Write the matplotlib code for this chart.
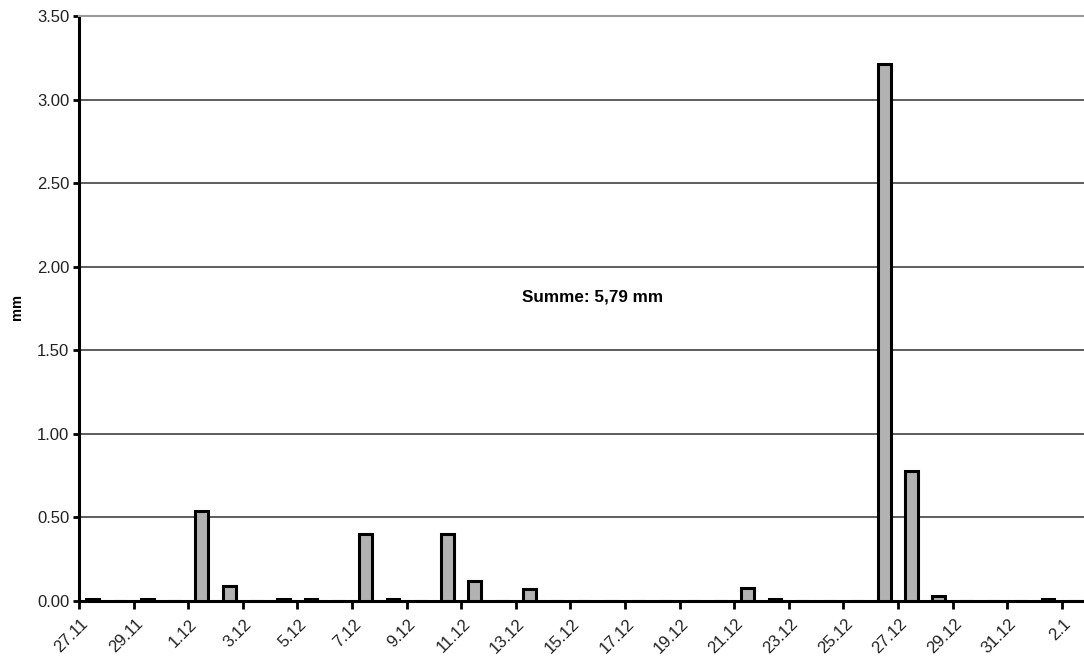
import numpy as np
import matplotlib.pyplot as plt

plt.rcParams['font.family'] = ['Liberation Sans', 'DejaVu Sans']

# daily precipitation, 27.11 - 2.1
days = ['27.11', '28.11', '29.11', '30.11',
        '1.12', '2.12', '3.12', '4.12', '5.12', '6.12', '7.12', '8.12', '9.12', '10.12',
        '11.12', '12.12', '13.12', '14.12', '15.12', '16.12', '17.12', '18.12', '19.12',
        '20.12', '21.12', '22.12', '23.12', '24.12', '25.12', '26.12', '27.12', '28.12',
        '29.12', '30.12', '31.12', '1.1', '2.1']
rain = [0.01, 0.00, 0.01, 0.00,
        0.54, 0.09, 0.00, 0.01, 0.01, 0.00, 0.40, 0.01, 0.00, 0.40,
        0.12, 0.00, 0.07, 0.00, 0.00, 0.00, 0.00, 0.00, 0.00,
        0.00, 0.08, 0.01, 0.00, 0.00, 0.00, 3.21, 0.78, 0.03,
        0.00, 0.00, 0.00, 0.01, 0.00]
total_label = 'Summe: 5,79 mm'

fig = plt.figure(figsize=(10.84, 6.66), dpi=100)
ax = fig.add_axes([79 / 1084, 1 - 601 / 666, 1010 / 1084, 585 / 666])

x = np.arange(len(days))
ax.bar(x, rain, width=0.47, color='#b2b2b2', edgecolor='black', linewidth=2.2, zorder=3)

ax.set_xlim(-0.5, len(days) - 0.5)
ax.set_ylim(0, 3.5)
yt = np.arange(0, 3.51, 0.5)
ax.set_yticks(yt)
ax.set_yticklabels(['%.2f' % v for v in yt], fontsize=12, color='#222222')
ax.yaxis.grid(True, color='#505050', linewidth=1.3, zorder=1)
ax.set_axisbelow(True)

# labels every second day, tick marks on the category boundaries
ax.set_xticks(x[::2] - 0.45)
ax.set_xticklabels(days[::2], rotation=45, ha='right', va='top',
                   rotation_mode='anchor', fontsize=12, color='#222222')
ax.set_xticks(x[::2] - 0.5, minor=True)
ax.tick_params(axis='x', which='major', length=0, pad=11)
ax.tick_params(axis='x', which='minor', length=6, width=2, direction='out')
ax.tick_params(axis='y', length=4, width=2, direction='out', pad=3)

ax.spines['right'].set_visible(False)
ax.spines['top'].set_color('#9a9a9a')
ax.spines['top'].set_linewidth(1.5)
ax.spines['left'].set_linewidth(2.2)
ax.spines['bottom'].set_linewidth(2.2)

fig.text(17 / 1084, 1 - 307 / 666, 'mm', fontsize=10.5, fontweight='bold',
         rotation=90, ha='center', va='center')
ax.text(18.3, 1.82, total_label, fontsize=12.3, fontweight='bold', ha='center', va='center')

fig.savefig('out.png', dpi=100)
